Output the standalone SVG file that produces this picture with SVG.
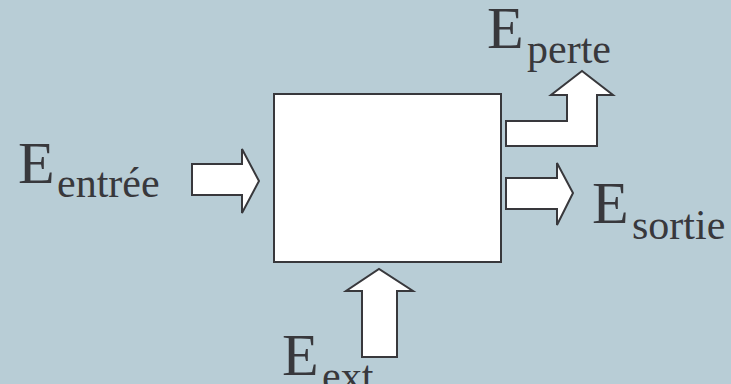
<svg xmlns="http://www.w3.org/2000/svg" width="731" height="384" viewBox="0 0 731 384">
<style>
.shape{fill:#ffffff;stroke:#38383c;stroke-width:2;stroke-linejoin:miter}
.big{font-size:60px;fill:#38383c}
.sub{font-size:42px;fill:#38383c}
</style>
<rect width="731" height="384" fill="#b8cdd6"/>
<g id="systeme">
<rect class="shape" x="274" y="94" width="227" height="168"/>
</g>
<g id="connectors">
<path id="arrow-entree" class="shape" d="M192,164 L242,164 L242,149 L259,181 L242,213 L242,195 L192,195 Z"/>
<path id="arrow-sortie" class="shape" d="M506,178 L557,178 L557,163 L573,193 L557,225 L557,209 L506,209 Z"/>
<path id="arrow-perte" class="shape" d="M506,121 L567,121 L567,95 L551,95 L582,71 L613,95 L597,95 L597,146 L506,146 Z"/>
<path id="arrow-ext" class="shape" d="M362,357 L362,291 L346,291 L379,269 L413,291 L397,291 L397,357 Z"/>
</g>
<g font-family="'Liberation Serif', 'DejaVu Serif', serif">
<g id="label-entree">
<text class="big" x="18" y="183">E</text><text class="sub" x="57" y="197">entrée</text>
</g>
<g id="label-perte">
<text class="big" x="487" y="48">E</text><text class="sub" x="527" y="63">perte</text>
</g>
<g id="label-sortie">
<text class="big" x="592" y="223">E</text><text class="sub" x="632" y="239">sortie</text>
</g>
<g id="label-ext">
<text class="big" x="282" y="375">E</text><text class="sub" x="322" y="390">ext</text>
</g>
</g>
</svg>
